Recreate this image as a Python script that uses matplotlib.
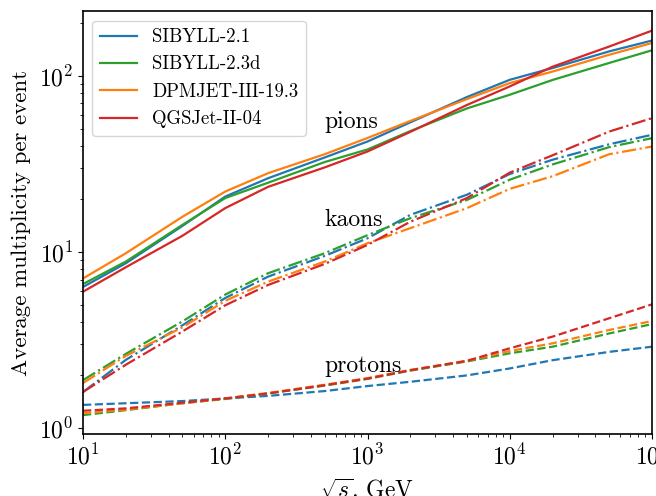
import numpy as np
import matplotlib
matplotlib.use("Agg")
import matplotlib.pyplot as plt

plt.rcParams['font.family'] = 'serif'
plt.rcParams['font.serif'] = ['cmr10']
plt.rcParams['mathtext.fontset'] = 'cm'
plt.rcParams['axes.formatter.use_mathtext'] = True

# sqrt(s) in GeV
energy = [10, 20, 50, 100, 200, 500, 1e3, 2e3, 5e3, 1e4, 2e4, 5e4, 1e5]

models = ['SIBYLL-2.1', 'SIBYLL-2.3d', 'DPMJET-III-19.3', 'QGSJet-II-04']
colors = ['tab:blue', 'tab:green', 'tab:orange', 'tab:red']

pions = {
    'SIBYLL-2.1':      [6.35, 8.66, 14.1, 20.7, 26.3, 34.5, 42.5, 54.6, 76.0, 95.2, 111, 138, 159],
    'SIBYLL-2.3d':     [6.6, 8.85, 14.3, 20.3, 24.8, 32.5, 38.3, 48.7, 65.5, 78.3, 95, 118.6, 140],
    'DPMJET-III-19.3': [7.1, 9.87, 15.9, 22.1, 28.1, 36.0, 44.5, 55.6, 74.0, 91.2, 106, 132, 154],
    'QGSJet-II-04':    [5.97, 8.22, 12.4, 17.8, 23.5, 30.3, 37.3, 48.2, 68.5, 87.3, 113, 147, 181],
}

kaons = {
    'SIBYLL-2.1':      [1.61, 2.45, 3.85, 5.5, 7.27, 9.53, 12.0, 16.3, 21.2, 27.8, 33.5, 41.0, 46.4],
    'SIBYLL-2.3d':     [1.88, 2.65, 4.05, 5.75, 7.6, 9.87, 12.5, 15.6, 19.8, 25.8, 31.5, 39.5, 44.4],
    'DPMJET-III-19.3': [1.81, 2.58, 3.75, 5.3, 6.81, 8.85, 11.25, 13.7, 17.8, 22.9, 27.0, 36.0, 39.8],
    'QGSJet-II-04':    [1.61, 2.3, 3.55, 5.0, 6.52, 8.58, 11.0, 14.9, 20.3, 28.3, 35.5, 48.4, 57.7],
}

protons = {
    'SIBYLL-2.1':      [1.36, 1.39, 1.43, 1.48, 1.53, 1.63, 1.74, 1.84, 2.0, 2.19, 2.44, 2.72, 2.91],
    'SIBYLL-2.3d':     [1.19, 1.27, 1.39, 1.47, 1.58, 1.75, 1.91, 2.13, 2.40, 2.67, 2.91, 3.46, 3.91],
    'DPMJET-III-19.3': [1.22, 1.28, 1.39, 1.48, 1.59, 1.77, 1.93, 2.15, 2.42, 2.75, 3.04, 3.62, 4.07],
    'QGSJet-II-04':    [1.26, 1.30, 1.40, 1.48, 1.58, 1.76, 1.92, 2.14, 2.42, 2.85, 3.32, 4.22, 5.06],
}

fig = plt.figure(figsize=(6.56, 4.96), dpi=100)
ax = fig.add_axes([83 / 656, 62 / 496, 569 / 656, 422.7 / 496])

for name, c in zip(models, colors):
    ax.plot(energy, pions[name], '-', color=c, lw=1.6, label=name)
    ax.plot(energy, kaons[name], '-.', color=c, lw=1.6)
    ax.plot(energy, protons[name], '--', color=c, lw=1.6)

ax.set_xscale('log')
ax.set_yscale('log')
ax.set_xlim(10, 1e5)
ax.set_ylim(0.93, 233)

ax.text(500, 50.8, 'pions', fontsize=17)
ax.text(500, 14.0, 'kaons', fontsize=17)
ax.text(500, 2.10, 'protons', fontsize=17)

ax.set_xlabel(r'$\sqrt{s}$, GeV', fontsize=17, labelpad=5)
ax.set_ylabel('Average multiplicity per event', fontsize=16.5, labelpad=6)
ax.tick_params(labelsize=17)
for s in ax.spines.values():
    s.set_linewidth(1.2)

ax.legend(loc='upper left', fontsize=13.5)

fig.savefig('out.png', dpi=100)
